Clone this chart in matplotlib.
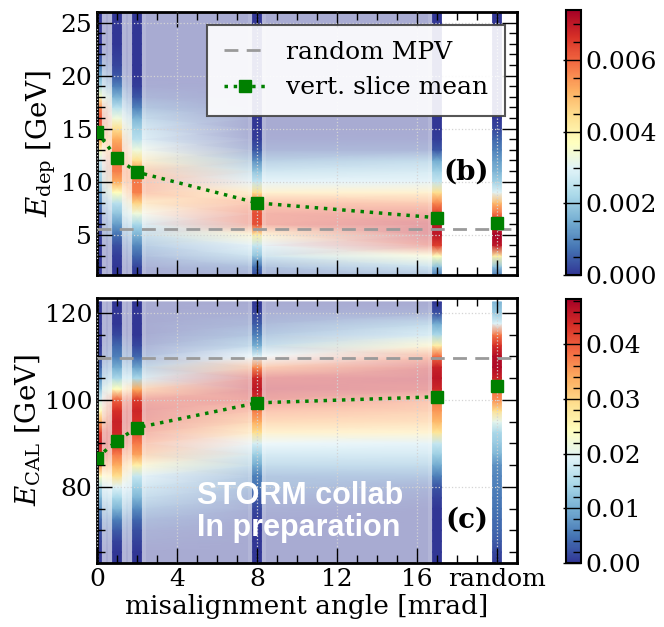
import numpy as np
import matplotlib
matplotlib.use("Agg")
import matplotlib.pyplot as plt
from matplotlib.colors import ListedColormap
from matplotlib.ticker import MultipleLocator, FixedLocator, FixedFormatter

plt.rcParams['font.family'] = 'DejaVu Serif'
plt.rcParams['mathtext.fontset'] = 'dejavuserif'

# misalignment angles [mrad]; the "random" sample is put at 20 on the axis
angles = [0, 1, 2, 8, 17]
random_pos = 20
slice_x = angles + [random_pos]
xtick_pos = [0, 4, 8, 12, 16, 20]
xtick_lab = ['0', '4', '8', '12', '16', 'random']

# ---- panel (b): deposited energy, density in units of 1e-3 ----
dep_levels = np.arange(1, 27)  # GeV, 1 .. 26
dep_0 = [0, 0, 0, 0, 0.1, 0.2, 0.4, 0.9, 1.3, 1.9, 2.2, 2.8, 3.7, 5.2, 6.1, 6.3, 5.6, 3.7, 2.2, 1.5, 0.7, 0.2, 0, 0, 0, 0]
dep_1 = [0, 0, 0.1, 0.3, 0.7, 1.3, 1.9, 2.4, 3.7, 5.2, 5.7, 5.8, 5.6, 5.2, 4.4, 3.3, 2.4, 1.6, 0.9, 0.4, 0.2, 0.1, 0, 0, 0, 0]
dep_2 = [0, 0.2, 0.6, 1.0, 1.6, 2.2, 3.3, 4.6, 5.7, 5.8, 5.5, 4.4, 3.3, 2.4, 2.1, 1.6, 0.9, 0.4, 0.1, 0, 0, 0, 0, 0, 0, 0]
dep_8 = [0.2, 0.7, 1.9, 2.6, 4.1, 6.3, 6.3, 5.8, 4.4, 2.6, 1.9, 1.1, 0.4, 0.1, 0, 0, 0, 0, 0, 0, 0, 0, 0, 0, 0, 0]
dep_17 = [0.7, 1.9, 3.7, 6.5, 7.0, 7.0, 6.5, 5.6, 4.4, 2.6, 2.1, 1.5, 0.4, 0.1, 0, 0, 0, 0, 0, 0, 0, 0, 0, 0, 0, 0]
dep_rand = [0.7, 1.9, 4.1, 7.0, 7.4, 6.7, 5.9, 5.0, 3.0, 2.1, 1.6, 1.3, 0.9, 0.6, 0.2, 0, 0, 0, 0, 0, 0, 0, 0, 0, 0, 0]
dep_mean = [14.7, 12.2, 10.9, 8.0, 6.6, 6.1]
dep_mpv = 5.5

# ---- panel (c): calorimeter energy, density in units of 1e-2 ----
cal_levels = np.arange(62.5, 123, 2.5)  # GeV
cal_0 = [0, 0, 0.1, 0.19, 0.39, 0.68, 1.06, 1.45, 2.42, 3.62, 4.35, 4.49, 4.25, 3.38, 2.42, 1.84, 1.21, 0.72, 0.39, 0.14, 0, 0, 0, 0, 0]
cal_1 = [0, 0, 0.1, 0.29, 0.58, 1.06, 1.45, 1.93, 2.9, 3.38, 3.77, 4.25, 4.44, 4.49, 4.35, 3.96, 2.42, 1.45, 0.97, 0.58, 0.39, 0.14, 0, 0, 0]
cal_2 = [0, 0, 0.1, 0.19, 0.39, 0.68, 1.06, 1.35, 1.69, 2.66, 3.48, 3.77, 4.1, 4.35, 4.44, 4.25, 3.38, 1.45, 0.87, 0.39, 0.14, 0, 0, 0, 0]
cal_8 = [0, 0, 0, 0, 0.05, 0.14, 0.29, 0.48, 0.58, 0.97, 1.35, 1.84, 2.9, 3.38, 3.77, 4.35, 4.59, 4.44, 3.62, 1.93, 0.97, 0.58, 0.29, 0.1, 0]
cal_17 = [0, 0, 0, 0, 0, 0, 0.1, 0.24, 0.58, 0.97, 1.35, 1.69, 2.8, 3.28, 3.53, 3.77, 4.44, 4.59, 4.49, 3.86, 2.66, 1.45, 0.97, 0.19, 0]
cal_rand = [0.05, 0.14, 0.29, 0.39, 0.43, 0.48, 0.53, 0.58, 0.63, 0.72, 1.06, 1.3, 1.45, 2.03, 2.9, 3.62, 3.86, 4.49, 4.73, 4.69, 4.35, 3.77, 1.93, 1.3, 1.06]
cal_mean = [86.7, 90.6, 93.6, 99.3, 100.7, 103.2]
cal_mpv = 109.7

cmap = plt.get_cmap('RdYlBu_r')
# washed-out copy of the colormap for the interpolated background
_c = cmap(np.linspace(0, 1, 256))
_c[:, :3] = _c[:, :3] * 0.42 + 0.58
cmap_light = ListedColormap(_c)

W, H = 664, 627
fig = plt.figure(figsize=(W / 100, H / 100), dpi=100)


def px_box(l, r, t, b):
    return [l / W, 1 - b / H, (r - l) / W, (b - t) / H]


def draw_panel(ax, cax, levels, cols, means, mpv, vmax, legend=False):
    Z = np.column_stack(cols)
    X, Y = np.meshgrid(angles, levels)
    ax.pcolormesh(X, Y, Z[:, :5], shading='gouraud', cmap=cmap_light, vmin=0, vmax=vmax,
                  zorder=1, rasterized=True)
    mesh = None
    for i, x in enumerate(slice_x):
        ax.axvspan(x - 0.45, x + 0.45, color='white', alpha=0.12, lw=0, zorder=1.6)
        Xs, Ys = np.meshgrid([x - 0.22, x + 0.22], levels)
        mesh = ax.pcolormesh(Xs, Ys, np.column_stack([Z[:, i], Z[:, i]]), shading='gouraud',
                             cmap=cmap, vmin=0, vmax=vmax, zorder=2, rasterized=True)
    ax.axhline(mpv, color='#9a9a9a', ls=(0, (5, 3)), lw=2, zorder=3, label='random MPV')
    ax.plot(angles, means[:5], ':', color='green', lw=2.5, marker='s', ms=8, zorder=4,
            label='vert. slice mean')
    ax.plot([random_pos], [means[5]], 's', color='green', ms=8, zorder=4)

    ax.set_xlim(0, 21)
    ax.xaxis.set_major_locator(FixedLocator(xtick_pos))
    ax.xaxis.set_minor_locator(MultipleLocator(1))
    ax.grid(True, which='major', ls=':', color='#d4d4d4', lw=0.9)
    ax.set_axisbelow(False)
    ax.tick_params(which='both', direction='in', top=True, right=True, width=1, labelsize=18)
    ax.tick_params(which='major', length=11)
    ax.tick_params(which='minor', length=6)
    for s in ax.spines.values():
        s.set_linewidth(2)
    if legend:
        leg = ax.legend(loc='upper right', fontsize=18, fancybox=False, framealpha=0.9,
                        edgecolor='#444444', borderaxespad=0.5, handlelength=1.7,
                        handletextpad=0.8, borderpad=0.65, labelspacing=0.5)
        leg.get_frame().set_linewidth(1.5)
        leg.set_zorder(6)

    cb = fig.colorbar(mesh, cax=cax)
    cb.outline.set_linewidth(1.5)
    cax.tick_params(which='both', direction='in', width=1, labelsize=18)
    cax.tick_params(which='major', length=13)
    cax.tick_params(which='minor', length=6)
    return cb


ax_b = fig.add_axes(px_box(97, 517, 12, 275))
cax_b = fig.add_axes(px_box(566, 581, 10, 275))
ax_c = fig.add_axes(px_box(97, 517, 298, 563))
cax_c = fig.add_axes(px_box(566, 581, 299, 563))

cb_b = draw_panel(ax_b, cax_b, dep_levels, [np.array(c) * 1e-3 for c in
                  [dep_0, dep_1, dep_2, dep_8, dep_17, dep_rand]], dep_mean, dep_mpv, 0.0074, legend=True)
cb_c = draw_panel(ax_c, cax_c, cal_levels, [np.array(c) * 1e-2 for c in
                  [cal_0, cal_1, cal_2, cal_8, cal_17, cal_rand]], cal_mean, cal_mpv, 0.0483)

ax_b.set_ylim(1.2, 26.0)
ax_b.yaxis.set_major_locator(FixedLocator([5, 10, 15, 20, 25]))
ax_b.yaxis.set_minor_locator(MultipleLocator(1))
ax_b.set_xticklabels([])
ax_b.set_ylabel(r'$E_\mathrm{dep}$ [GeV]', fontsize=20, labelpad=2)
ax_b.text(0.88, 0.39, '(b)', transform=ax_b.transAxes, fontsize=20, fontweight='bold',
          ha='center', va='center', zorder=5)

ax_c.set_ylim(62.5, 123.4)
ax_c.yaxis.set_major_locator(FixedLocator([80, 100, 120]))
ax_c.yaxis.set_minor_locator(MultipleLocator(5))
ax_c.xaxis.set_major_formatter(FixedFormatter(xtick_lab))
ax_c.set_ylabel(r'$E_\mathrm{CAL}$ [GeV]', fontsize=20, labelpad=2)
ax_c.set_xlabel('misalignment angle [mrad]', fontsize=19, labelpad=2)
ax_c.text(0.88, 0.16, '(c)', transform=ax_c.transAxes, fontsize=20, fontweight='bold',
          ha='center', va='center', zorder=5)

cb_b.set_ticks([0, 0.002, 0.004, 0.006])
cb_b.set_ticklabels(['0.000', '0.002', '0.004', '0.006'])
cax_b.yaxis.set_minor_locator(MultipleLocator(0.0005))
cb_c.set_ticks([0, 0.01, 0.02, 0.03, 0.04])
cb_c.set_ticklabels(['0.00', '0.01', '0.02', '0.03', '0.04'])
cax_c.yaxis.set_minor_locator(MultipleLocator(0.002))

fig.text(197 / W, 1 - 512 / H, 'STORM collab\nIn preparation', color='white', fontsize=22,
         fontweight='bold', family='Liberation Sans', ha='left', va='center', linespacing=1.1)

fig.savefig('out.png', dpi=100)
